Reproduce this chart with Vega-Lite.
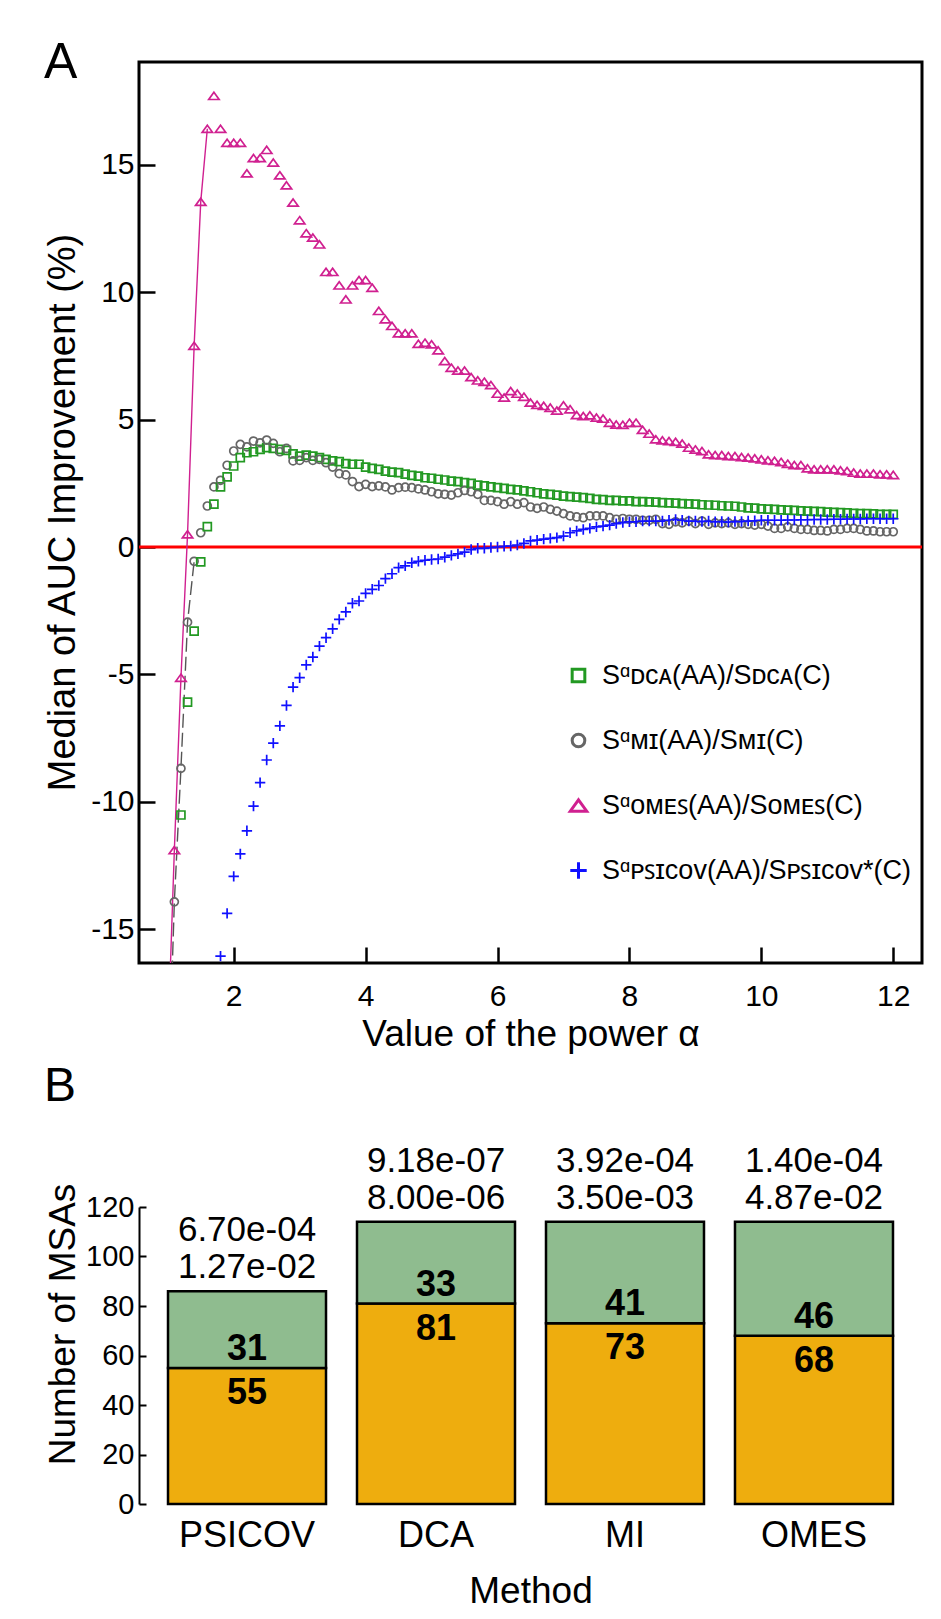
{
  "$schema": "https://vega.github.io/schema/vega-lite/v6.json",
  "padding": {"left": 42, "top": 36, "right": 0, "bottom": 0},
  "background": "white",
  "bounds": "flush",
  "spacing": 244,
  "resolve": {"scale": {"color": "independent", "shape": "independent"}, "legend": {"color": "independent", "shape": "independent"}},
  "config": {
    "font": "Liberation Sans, Arial, sans-serif",
    "axis": {"grid": false, "labelColor": "black", "titleColor": "black", "tickColor": "black", "domainColor": "black", "titleFontWeight": "normal", "labelFont": "Liberation Sans, Arial, sans-serif", "titleFont": "Liberation Sans, Arial, sans-serif"},
    "title": {"color": "black", "font": "Liberation Sans, Arial, sans-serif", "fontWeight": "normal"},
    "legend": {"labelFont": "Liberation Sans, Arial, sans-serif", "labelColor": "black"}
  },
  "datasets": {
    "curves": [
      {"a":1.0,"DCA":null,"MI":-22,"OMES":-19.5,"PSICOV":null},
      {"a":1.1,"DCA":null,"MI":-13.93,"OMES":-11.9,"PSICOV":null},
      {"a":1.2,"DCA":-10.52,"MI":-8.69,"OMES":-5.13,"PSICOV":null},
      {"a":1.3,"DCA":-6.09,"MI":-2.95,"OMES":0.5,"PSICOV":null},
      {"a":1.4,"DCA":-3.3,"MI":-0.56,"OMES":7.9,"PSICOV":null},
      {"a":1.5,"DCA":-0.58,"MI":0.56,"OMES":13.55,"PSICOV":null},
      {"a":1.6,"DCA":0.8,"MI":1.61,"OMES":16.42,"PSICOV":null},
      {"a":1.7,"DCA":1.68,"MI":2.36,"OMES":17.71,"PSICOV":null},
      {"a":1.8,"DCA":2.36,"MI":2.62,"OMES":16.42,"PSICOV":-16.06},
      {"a":1.9,"DCA":2.75,"MI":3.21,"OMES":15.87,"PSICOV":-14.38},
      {"a":2.0,"DCA":3.18,"MI":3.77,"OMES":15.87,"PSICOV":-12.93},
      {"a":2.1,"DCA":3.51,"MI":4.03,"OMES":15.87,"PSICOV":-12.05},
      {"a":2.2,"DCA":3.70,"MI":3.93,"OMES":14.67,"PSICOV":-11.14},
      {"a":2.3,"DCA":3.74,"MI":4.16,"OMES":15.27,"PSICOV":-10.17},
      {"a":2.4,"DCA":3.83,"MI":4.09,"OMES":15.27,"PSICOV":-9.25},
      {"a":2.5,"DCA":3.90,"MI":4.20,"OMES":15.59,"PSICOV":-8.36},
      {"a":2.6,"DCA":3.87,"MI":4.07,"OMES":15.09,"PSICOV":-7.70},
      {"a":2.7,"DCA":3.83,"MI":3.74,"OMES":14.59,"PSICOV":-7.02},
      {"a":2.8,"DCA":3.79,"MI":3.87,"OMES":14.20,"PSICOV":-6.22},
      {"a":2.9,"DCA":3.66,"MI":3.38,"OMES":13.52,"PSICOV":-5.50},
      {"a":3.0,"DCA":3.57,"MI":3.40,"OMES":12.83,"PSICOV":-5.13},
      {"a":3.1,"DCA":3.61,"MI":3.51,"OMES":12.32,"PSICOV":-4.63},
      {"a":3.2,"DCA":3.57,"MI":3.40,"OMES":12.15,"PSICOV":-4.32},
      {"a":3.3,"DCA":3.51,"MI":3.44,"OMES":11.88,"PSICOV":-3.89},
      {"a":3.4,"DCA":3.44,"MI":3.31,"OMES":10.80,"PSICOV":-3.56},
      {"a":3.5,"DCA":3.38,"MI":3.14,"OMES":10.80,"PSICOV":-3.21},
      {"a":3.6,"DCA":3.35,"MI":2.88,"OMES":10.27,"PSICOV":-2.84},
      {"a":3.7,"DCA":3.27,"MI":2.83,"OMES":9.72,"PSICOV":-2.55},
      {"a":3.8,"DCA":3.25,"MI":2.57,"OMES":10.27,"PSICOV":-2.21},
      {"a":3.9,"DCA":3.25,"MI":2.37,"OMES":10.48,"PSICOV":-2.12},
      {"a":4.0,"DCA":3.14,"MI":2.46,"OMES":10.48,"PSICOV":-1.82},
      {"a":4.1,"DCA":3.09,"MI":2.37,"OMES":10.18,"PSICOV":-1.66},
      {"a":4.2,"DCA":3.05,"MI":2.40,"OMES":9.27,"PSICOV":-1.51},
      {"a":4.3,"DCA":2.98,"MI":2.36,"OMES":8.94,"PSICOV":-1.24},
      {"a":4.4,"DCA":2.94,"MI":2.24,"OMES":8.68,"PSICOV":-1.05},
      {"a":4.5,"DCA":2.92,"MI":2.33,"OMES":8.39,"PSICOV":-0.81},
      {"a":4.6,"DCA":2.86,"MI":2.35,"OMES":8.39,"PSICOV":-0.74},
      {"a":4.7,"DCA":2.81,"MI":2.33,"OMES":8.39,"PSICOV":-0.62},
      {"a":4.8,"DCA":2.78,"MI":2.28,"OMES":7.98,"PSICOV":-0.56},
      {"a":4.9,"DCA":2.72,"MI":2.24,"OMES":8.02,"PSICOV":-0.52},
      {"a":5.0,"DCA":2.70,"MI":2.17,"OMES":7.96,"PSICOV":-0.49},
      {"a":5.1,"DCA":2.66,"MI":2.09,"OMES":7.72,"PSICOV":-0.47},
      {"a":5.2,"DCA":2.63,"MI":2.07,"OMES":7.30,"PSICOV":-0.40},
      {"a":5.3,"DCA":2.59,"MI":2.04,"OMES":7.04,"PSICOV":-0.33},
      {"a":5.4,"DCA":2.57,"MI":2.13,"OMES":6.93,"PSICOV":-0.27},
      {"a":5.5,"DCA":2.53,"MI":2.22,"OMES":6.93,"PSICOV":-0.20},
      {"a":5.6,"DCA":2.50,"MI":2.17,"OMES":6.67,"PSICOV":-0.10},
      {"a":5.7,"DCA":2.43,"MI":2.07,"OMES":6.54,"PSICOV":-0.05},
      {"a":5.8,"DCA":2.40,"MI":1.83,"OMES":6.49,"PSICOV":-0.05},
      {"a":5.9,"DCA":2.36,"MI":1.83,"OMES":6.36,"PSICOV":-0.02},
      {"a":6.0,"DCA":2.33,"MI":1.78,"OMES":6.02,"PSICOV":0.00},
      {"a":6.1,"DCA":2.30,"MI":1.68,"OMES":5.87,"PSICOV":0.03},
      {"a":6.2,"DCA":2.26,"MI":1.78,"OMES":6.12,"PSICOV":0.04},
      {"a":6.3,"DCA":2.24,"MI":1.68,"OMES":6.02,"PSICOV":0.08},
      {"a":6.4,"DCA":2.20,"MI":1.74,"OMES":5.90,"PSICOV":0.14},
      {"a":6.5,"DCA":2.17,"MI":1.57,"OMES":5.67,"PSICOV":0.24},
      {"a":6.6,"DCA":2.13,"MI":1.52,"OMES":5.58,"PSICOV":0.27},
      {"a":6.7,"DCA":2.09,"MI":1.57,"OMES":5.54,"PSICOV":0.31},
      {"a":6.8,"DCA":2.07,"MI":1.48,"OMES":5.47,"PSICOV":0.34},
      {"a":6.9,"DCA":2.04,"MI":1.41,"OMES":5.36,"PSICOV":0.37},
      {"a":7.0,"DCA":2.00,"MI":1.31,"OMES":5.56,"PSICOV":0.43},
      {"a":7.1,"DCA":1.98,"MI":1.22,"OMES":5.41,"PSICOV":0.56},
      {"a":7.2,"DCA":1.96,"MI":1.18,"OMES":5.18,"PSICOV":0.63},
      {"a":7.3,"DCA":1.94,"MI":1.15,"OMES":5.14,"PSICOV":0.69},
      {"a":7.4,"DCA":1.91,"MI":1.22,"OMES":5.17,"PSICOV":0.73},
      {"a":7.5,"DCA":1.87,"MI":1.22,"OMES":5.08,"PSICOV":0.79},
      {"a":7.6,"DCA":1.86,"MI":1.22,"OMES":5.04,"PSICOV":0.82},
      {"a":7.7,"DCA":1.83,"MI":1.15,"OMES":4.88,"PSICOV":0.86},
      {"a":7.8,"DCA":1.83,"MI":1.09,"OMES":4.81,"PSICOV":0.92},
      {"a":7.9,"DCA":1.81,"MI":1.12,"OMES":4.80,"PSICOV":0.96},
      {"a":8.0,"DCA":1.81,"MI":1.09,"OMES":4.88,"PSICOV":0.99},
      {"a":8.1,"DCA":1.78,"MI":1.09,"OMES":4.88,"PSICOV":0.99},
      {"a":8.2,"DCA":1.78,"MI":1.05,"OMES":4.60,"PSICOV":1.02},
      {"a":8.3,"DCA":1.77,"MI":1.05,"OMES":4.45,"PSICOV":1.02},
      {"a":8.4,"DCA":1.76,"MI":1.09,"OMES":4.23,"PSICOV":1.02},
      {"a":8.5,"DCA":1.74,"MI":0.92,"OMES":4.19,"PSICOV":1.02},
      {"a":8.6,"DCA":1.73,"MI":0.89,"OMES":4.16,"PSICOV":1.05},
      {"a":8.7,"DCA":1.72,"MI":0.99,"OMES":4.13,"PSICOV":1.08},
      {"a":8.8,"DCA":1.70,"MI":0.95,"OMES":4.06,"PSICOV":1.05},
      {"a":8.9,"DCA":1.69,"MI":1.02,"OMES":3.90,"PSICOV":1.02},
      {"a":9.0,"DCA":1.68,"MI":0.92,"OMES":3.83,"PSICOV":1.02},
      {"a":9.1,"DCA":1.66,"MI":1.02,"OMES":3.77,"PSICOV":1.00},
      {"a":9.2,"DCA":1.65,"MI":0.89,"OMES":3.64,"PSICOV":1.02},
      {"a":9.3,"DCA":1.64,"MI":0.95,"OMES":3.61,"PSICOV":0.99},
      {"a":9.4,"DCA":1.62,"MI":0.92,"OMES":3.61,"PSICOV":1.00},
      {"a":9.5,"DCA":1.61,"MI":0.95,"OMES":3.57,"PSICOV":0.98},
      {"a":9.6,"DCA":1.60,"MI":0.89,"OMES":3.57,"PSICOV":1.00},
      {"a":9.7,"DCA":1.57,"MI":0.92,"OMES":3.53,"PSICOV":1.00},
      {"a":9.8,"DCA":1.54,"MI":0.89,"OMES":3.51,"PSICOV":1.02},
      {"a":9.9,"DCA":1.53,"MI":0.86,"OMES":3.48,"PSICOV":1.03},
      {"a":10.0,"DCA":1.50,"MI":0.89,"OMES":3.44,"PSICOV":1.05},
      {"a":10.1,"DCA":1.49,"MI":0.82,"OMES":3.40,"PSICOV":1.05},
      {"a":10.2,"DCA":1.48,"MI":0.73,"OMES":3.38,"PSICOV":1.05},
      {"a":10.3,"DCA":1.46,"MI":0.73,"OMES":3.34,"PSICOV":1.05},
      {"a":10.4,"DCA":1.45,"MI":0.79,"OMES":3.27,"PSICOV":1.06},
      {"a":10.5,"DCA":1.44,"MI":0.73,"OMES":3.22,"PSICOV":1.06},
      {"a":10.6,"DCA":1.42,"MI":0.69,"OMES":3.22,"PSICOV":1.07},
      {"a":10.7,"DCA":1.41,"MI":0.69,"OMES":3.09,"PSICOV":1.07},
      {"a":10.8,"DCA":1.40,"MI":0.65,"OMES":3.05,"PSICOV":1.08},
      {"a":10.9,"DCA":1.39,"MI":0.65,"OMES":3.05,"PSICOV":1.08},
      {"a":11.0,"DCA":1.37,"MI":0.63,"OMES":3.05,"PSICOV":1.08},
      {"a":11.1,"DCA":1.36,"MI":0.69,"OMES":3.05,"PSICOV":1.09},
      {"a":11.2,"DCA":1.35,"MI":0.69,"OMES":3.01,"PSICOV":1.09},
      {"a":11.3,"DCA":1.34,"MI":0.73,"OMES":2.98,"PSICOV":1.10},
      {"a":11.4,"DCA":1.32,"MI":0.73,"OMES":2.92,"PSICOV":1.10},
      {"a":11.5,"DCA":1.31,"MI":0.69,"OMES":2.88,"PSICOV":1.10},
      {"a":11.6,"DCA":1.31,"MI":0.63,"OMES":2.88,"PSICOV":1.11},
      {"a":11.7,"DCA":1.30,"MI":0.63,"OMES":2.88,"PSICOV":1.11},
      {"a":11.8,"DCA":1.28,"MI":0.60,"OMES":2.85,"PSICOV":1.11},
      {"a":11.9,"DCA":1.28,"MI":0.60,"OMES":2.85,"PSICOV":1.11},
      {"a":12.0,"DCA":1.28,"MI":0.60,"OMES":2.83,"PSICOV":1.11}
    ],
    "bars": [
      {"method":"PSICOV","low":55,"high":31,"total":86,"p":"6.70e-04\n1.27e-02"},
      {"method":"DCA","low":81,"high":33,"total":114,"p":"9.18e-07\n8.00e-06"},
      {"method":"MI","low":73,"high":41,"total":114,"p":"3.92e-04\n3.50e-03"},
      {"method":"OMES","low":68,"high":46,"total":114,"p":"1.40e-04\n4.87e-02"}
    ]
  },
  "vconcat": [
    {
      "width": 783,
      "height": 901,
      "view": {"stroke": "black", "strokeWidth": 3},
      "title": {"text": "A", "anchor": "start", "frame": "bounds", "fontSize": 50, "baseline": "alphabetic", "offset": -66},
      "layer": [
        {
          "data": {"values": [{"ref": 0}]},
          "mark": {"type": "rule", "color": "#FF0000", "strokeWidth": 3},
          "encoding": {
            "y": {"field": "ref", "type": "quantitative", "title": "Median of AUC Improvement (%)", "scale": {"domain": [-16.33, 19.04], "nice": false, "zero": false}}
          }
        },
        {
          "data": {"name": "curves"},
          "transform": [
            {"fold": ["DCA", "MI", "OMES", "PSICOV"], "as": ["method", "value"]},
            {"filter": "datum.method == 'OMES' && datum.a <= 1.65"}
          ],
          "mark": {"type": "line", "clip": true, "color": "#D02090", "strokeWidth": 1.4},
          "encoding": {
            "x": {"field": "a", "type": "quantitative", "title": "Value of the power  α", "scale": {"domain": [0.564, 12.436], "nice": false, "zero": false}},
            "y": {"field": "value", "type": "quantitative", "title": "Median of AUC Improvement (%)", "scale": {"domain": [-16.33, 19.04], "nice": false, "zero": false}}
          }
        },
        {
          "data": {"name": "curves"},
          "transform": [
            {"fold": ["DCA", "MI", "OMES", "PSICOV"], "as": ["method", "value"]},
            {"filter": "datum.method == 'MI' && datum.a <= 1.45"}
          ],
          "mark": {"type": "line", "clip": true, "color": "#555555", "strokeWidth": 1.4, "strokeDash": [14, 5]},
          "encoding": {
            "x": {"field": "a", "type": "quantitative", "title": "Value of the power  α", "scale": {"domain": [0.564, 12.436], "nice": false, "zero": false}},
            "y": {"field": "value", "type": "quantitative", "title": "Median of AUC Improvement (%)", "scale": {"domain": [-16.33, 19.04], "nice": false, "zero": false}}
          }
        },
        {
          "data": {"name": "curves"},
          "transform": [
            {"fold": ["DCA", "MI", "OMES", "PSICOV"], "as": ["method", "value"]},
            {"filter": "isValid(datum.value)"}
          ],
          "mark": {"type": "point", "filled": false, "clip": true, "strokeWidth": 1.7, "size": 64, "opacity": 1},
          "encoding": {
            "x": {
              "field": "a", "type": "quantitative", "title": "Value of the power  α",
              "scale": {"domain": [0.564, 12.436], "nice": false, "zero": false},
              "axis": {"values": [2, 4, 6, 8, 10, 12], "format": "d", "domain": false, "tickSize": -16, "tickWidth": 2.5, "labelFontSize": 30, "labelPadding": 58, "labelBaseline": "alphabetic", "titleFontSize": 37, "titleBaseline": "alphabetic", "titleY": 82}
            },
            "y": {
              "field": "value", "type": "quantitative", "title": "Median of AUC Improvement (%)",
              "scale": {"domain": [-16.33, 19.04], "nice": false, "zero": false},
              "axis": {"values": [-15, -10, -5, 0, 5, 10, 15], "labelExpr": "'' + datum.value", "domain": false, "tickSize": -16, "tickWidth": 2.5, "labelFontSize": 30, "labelPadding": 21, "titleFontSize": 38, "titleBaseline": "middle", "titleX": -76, "titleY": 450}
            },
            "color": {
              "field": "method", "type": "nominal",
              "scale": {"domain": ["DCA", "MI", "OMES", "PSICOV"], "range": ["#229922", "#666666", "#D02090", "#1010FF"]},
              "legend": {"orient": "none", "legendX": 426, "legendY": 600, "title": null, "padding": 0, "rowPadding": 37, "labelFontSize": 27, "labelLimit": 600, "labelOffset": 10, "symbolSize": 160, "symbolStrokeWidth": 3,
                "labelExpr": "datum.label == 'DCA' ? 'Sᵅᴅᴄᴀ(AA)/Sᴅᴄᴀ(C)' : datum.label == 'MI' ? 'Sᵅᴍɪ(AA)/Sᴍɪ(C)' : datum.label == 'OMES' ? 'Sᵅᴏᴍᴇꜱ(AA)/Sᴏᴍᴇꜱ(C)' : 'Sᵅᴘꜱɪᴄᴏᴠ(AA)/Sᴘꜱɪᴄᴏᴠ*(C)'"}
            },
            "shape": {
              "field": "method", "type": "nominal",
              "scale": {"domain": ["DCA", "MI", "OMES", "PSICOV"], "range": ["square", "circle", "M0,-0.9L1.3,0.9H-1.3Z", "M-1.3,0H1.3M0,-1.3V1.3"]},
              "legend": {"orient": "none", "legendX": 426, "legendY": 600, "title": null, "padding": 0, "rowPadding": 37, "labelFontSize": 27, "labelLimit": 600, "labelOffset": 10, "symbolSize": 160, "symbolStrokeWidth": 3,
                "labelExpr": "datum.label == 'DCA' ? 'Sᵅᴅᴄᴀ(AA)/Sᴅᴄᴀ(C)' : datum.label == 'MI' ? 'Sᵅᴍɪ(AA)/Sᴍɪ(C)' : datum.label == 'OMES' ? 'Sᵅᴏᴍᴇꜱ(AA)/Sᴏᴍᴇꜱ(C)' : 'Sᵅᴘꜱɪᴄᴏᴠ(AA)/Sᴘꜱɪᴄᴏᴠ*(C)'"}
            }
          }
        }
      ]
    },
    {
      "width": 783,
      "height": 297,
      "view": {"stroke": null},
      "title": {"text": "B", "anchor": "start", "frame": "bounds", "fontSize": 48, "baseline": "alphabetic", "offset": -5},
      "data": {"name": "bars"},
      "encoding": {
        "x": {
          "field": "method", "type": "nominal", "sort": ["PSICOV", "DCA", "MI", "OMES"], "title": "Method",
          "scale": {"paddingInner": 0.164, "paddingOuter": 0.1535},
          "axis": {"domain": false, "ticks": false, "labelAngle": 0, "labelFontSize": 36, "labelPadding": 42, "labelBaseline": "alphabetic", "titleFontSize": 37, "titleBaseline": "alphabetic", "titleY": 98}
        }
      },
      "layer": [
        {
          "transform": [{"fold": ["low", "high"], "as": ["part", "n"]}],
          "mark": {"type": "bar", "stroke": "black", "strokeWidth": 2.5},
          "encoding": {
            "y": {
              "field": "n", "type": "quantitative", "stack": "zero", "title": "Number of MSAs",
              "scale": {"domain": [0, 120], "nice": false},
              "axis": {"values": [0, 20, 40, 60, 80, 100, 120], "domainWidth": 2, "tickSize": -7, "tickWidth": 2, "labelFontSize": 29, "labelPadding": 12, "titleFontSize": 37, "titleBaseline": "middle", "titleX": -76, "titleY": 117}
            },
            "color": {"field": "part", "type": "nominal", "scale": {"domain": ["low", "high"], "range": ["#EEAD0E", "#8FBC8F"]}, "legend": null},
            "order": {"field": "part", "sort": "descending"}
          }
        },
        {
          "mark": {"type": "text", "baseline": "alphabetic", "dy": -8, "fontSize": 36, "fontWeight": "bold", "color": "black"},
          "encoding": {
            "y": {"field": "low", "type": "quantitative", "title": "Number of MSAs"},
            "text": {"field": "high", "type": "quantitative"}
          }
        },
        {
          "mark": {"type": "text", "baseline": "alphabetic", "dy": 36, "fontSize": 36, "fontWeight": "bold", "color": "black"},
          "encoding": {
            "y": {"field": "low", "type": "quantitative", "title": "Number of MSAs"},
            "text": {"field": "low", "type": "quantitative"}
          }
        },
        {
          "mark": {"type": "text", "baseline": "alphabetic", "dy": -50, "fontSize": 35, "lineBreak": "\n", "lineHeight": 37, "color": "black"},
          "encoding": {
            "y": {"field": "total", "type": "quantitative", "title": "Number of MSAs"},
            "text": {"field": "p", "type": "nominal"}
          }
        }
      ]
    }
  ]
}
